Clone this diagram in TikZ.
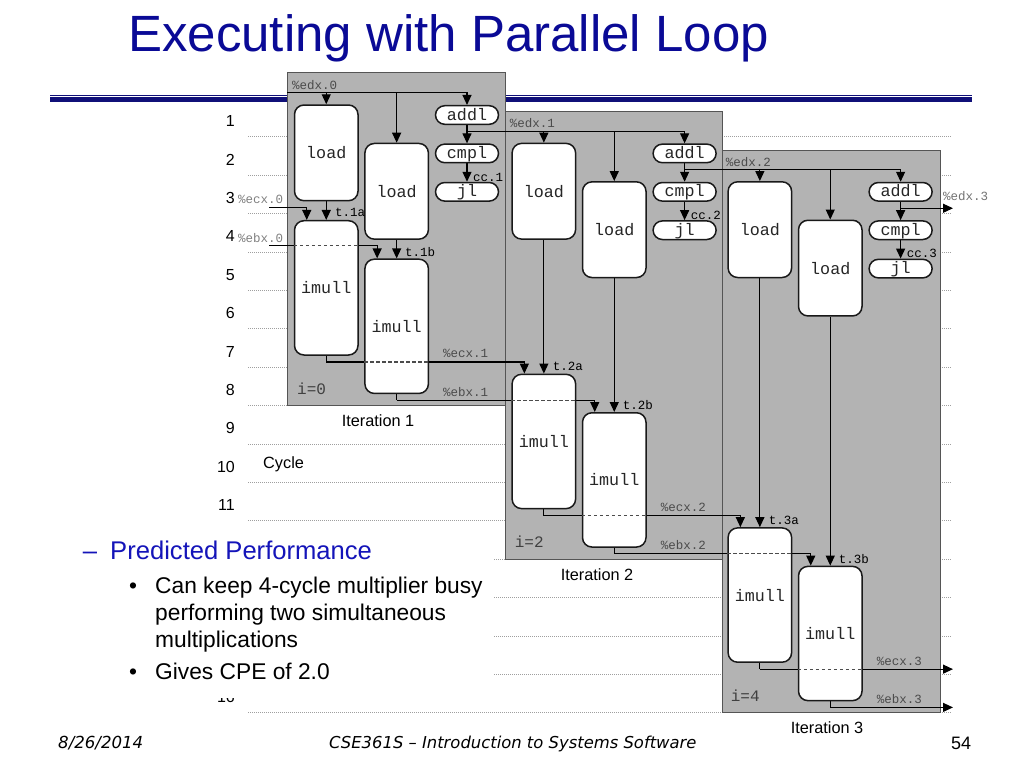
\documentclass[tikz,border=0pt]{standalone}
\usepackage{fontspec}
\setmainfont{Liberation Sans}
\newfontfamily\cour{Liberation Mono}
\newfontfamily\footfont{DejaVu Sans}
\usetikzlibrary{arrows.meta,calc}
\definecolor{titleblue}{RGB}{10,10,150}
\definecolor{ppblue}{RGB}{20,20,185}
\definecolor{navy}{RGB}{16,16,120}
\definecolor{boxgray}{RGB}{179,179,179}
\definecolor{edgegray}{RGB}{85,85,85}
\definecolor{lblgray}{RGB}{75,75,75}
\pgfdeclarelayer{bg}
\pgfdeclarelayer{wires}
\pgfsetlayers{bg,wires,main}
\begin{document}
\begin{tikzpicture}[x=1pt,y=-1pt,
  opbox/.style={draw=black!90,line width=1.5pt,fill=white,rounded corners=9.5pt,inner sep=0pt,minimum width=63.5pt,font=\cour\fontsize{16.7}{18}\selectfont,text=black!85},
  ldbox/.style={opbox,minimum height=95.7pt},
  imbox/.style={opbox,minimum height=134.3pt},
  pill/.style={opbox,rounded corners=9.3pt,minimum width=63pt,minimum height=18.6pt,text height=10.2pt,text depth=0pt},
  itbox/.style={fill=boxgray,draw=edgegray,line width=1pt},
  arr/.style={-{Triangle[length=10pt,width=9pt]},line width=1.2pt},
  wire/.style={line width=1.2pt},
  dsh/.style={line width=1.1pt,dash pattern=on 3.5pt off 2.5pt,black!70},
  reg/.style={font=\cour\fontsize{12.5}{13}\selectfont,text=lblgray,inner sep=0pt,anchor=west},
  tmp/.style={font=\cour\fontsize{12.5}{13}\selectfont,text=black,inner sep=0pt,anchor=west},
  ival/.style={font=\cour\fontsize{16}{17}\selectfont,text=black!75,inner sep=0pt,anchor=west},
  sans/.style={font=\fontsize{16.3}{18}\selectfont,inner sep=0pt},
  num/.style={font=\fontsize{16}{18}\selectfont,inner sep=0pt,anchor=base east},
  gridline/.style={gray!75,line width=0.8pt,dash pattern=on 1pt off 1pt},
]
\useasboundingbox (0,0) rectangle (1024,768);

\begin{pgfonlayer}{bg}
  % cycle grid
  \foreach \i in {0,...,15}{
    \draw[gridline] (248,136.7+38.4*\i) -- (952,136.7+38.4*\i);
  }
  \foreach \n in {1,...,11}{
    \node[num] (cyc\n) at (235,126.7+38.4*\n-38.4) {\n};
  }
  % text panel covering part of the grid
  \fill[white] (40,526) rectangle (494,698.4);
  % last cycle number, mostly hidden by the text panel
  \begin{scope}
    \clip (200,698.4) rectangle (245,712);
    \node[num] (cyc16) at (235,702.7) {16};
  \end{scope}
  % title rule
  \draw[navy,line width=1pt] (50,95.5) -- (972,95.5);
  \draw[navy,line width=4.4pt] (50,99.5) -- (972,99.5);
  % iteration boxes
  \path[itbox] (287.3,72.7) rectangle (505,405);
  \path[itbox] (505,111.7) rectangle (722.3,559);
  \path[itbox] (722.3,150) rectangle (940,712);
\end{pgfonlayer}

% title
\node[anchor=base west,inner sep=0pt,font=\fontsize{51}{60}\selectfont,text=titleblue] (title) at (128,51.7) {Executing with Parallel Loop};

% operation boxes
\foreach \k/\dx in {0/0,1/217.6,2/433.6}{
  \pgfmathsetmacro\dy{38.4*\k}
  \pgfmathsetmacro\dyi{153.6*\k}
  \node[ldbox] (ldA\k) at (326.25+\dx,152.85+\dy) {load};
  \node[ldbox] (ldB\k) at (396.65+\dx,191.3+\dy) {load};
  \node[pill] (add\k) at (467+\dx,115+\dy) {addl};
  \node[pill] (cmp\k) at (467+\dx,153.4+\dy) {cmpl};
  \node[pill] (jl\k) at (467+\dx,191.8+\dy) {jl};
  \node[imbox] (imA\k) at (326.25+\dx,287.85+\dyi) {imull};
  \node[imbox] (imB\k) at (396.65+\dx,326.3+\dyi) {imull};
}

% wires
\coordinate (xr) at (953,0);
\coordinate (edxh0) at (287.3,92.3);
\coordinate (ecxh0) at (269,207.3);
\coordinate (ebxh0) at (269,245.8);
\foreach \k in {1,2,3}{
  \pgfmathtruncatemacro\km{\k-1}
  \coordinate (edxh\k) at ($(add\km.south)+(0,6.4)$);
  \coordinate (ecxh\k) at ($(imA\km.south)+(0,6.2)$);
  \coordinate (ebxh\k) at ($(imB\km.south)+(0,6)$);
}
\begin{pgfonlayer}{wires}
  \foreach \k in {0,1,2}{
    \pgfmathtruncatemacro\kp{\k+1}
    \draw[arr] (edxh\k) -| (add\k.north);
    \draw[arr] (ldA\k.north |- edxh\k) -- (ldA\k.north);
    \draw[arr] (ldB\k.north |- edxh\k) -- (ldB\k.north);
    \draw[arr] (add\k.south) -- (cmp\k.north);
    \draw[arr] (cmp\k.south) -- (jl\k.north);
    \draw[arr] (ldA\k.south) -- (imA\k.north);
    \draw[arr] (ldB\k.south) -- (imB\k.north);
    \draw[arr] (ecxh\k) -| ([xshift=13pt]imA\k.north west);
    \draw[arr] (ebxh\k) -| ([xshift=13pt]imB\k.north west);
    \draw[wire] (imA\k.south) -- (ecxh\kp);
    \draw[wire] (imB\k.south) -- (ebxh\kp);
  }
  \draw[arr] (edxh3) -- (edxh3 -| xr);
  \draw[arr] (ecxh3) -- (ecxh3 -| xr);
  \draw[arr] (ebxh3) -- (ebxh3 -| xr);
\end{pgfonlayer}

% hidden parts of wires behind boxes
\foreach \k in {0,1,2}{
  \pgfmathtruncatemacro\kp{\k+1}
  \draw[dsh] (imA\k.west |- ebxh\k) -- (imA\k.east |- ebxh\k);
  \draw[dsh] (imB\k.west |- ecxh\kp) -- (imB\k.east |- ecxh\kp);
}

% labels
\foreach \k/\dx in {0/0,1/217.6,2/433.6}{
  \pgfmathsetmacro\dy{38.4*\k}
  \pgfmathsetmacro\dyi{153.6*\k}
  \pgfmathtruncatemacro\kp{\k+1}
  \pgfmathtruncatemacro\ii{2*\k}
  \node[reg] (ledx\k) at (292+\dx,85+\dy) {\%edx.\k};
  \node[tmp] (lcc\k) at (473+\dx,177+\dy) {cc.\kp};
  \node[tmp] (lta\k) at (335+\dx,212.7+\dyi) {t.\kp a};
  \node[tmp] (ltb\k) at (405+\dx,251.7+\dyi) {t.\kp b};
  \node[reg] (lecx\k) at (443+\dx,353.7+\dyi) {\%ecx.\kp};
  \node[reg] (lebx\k) at (443+\dx,391.7+\dyi) {\%ebx.\kp};
  \node[ival] (li\k) at (297+\dx,388.3+\dyi) {i=\ii};
}
\node[reg,text=gray] (inecx) at (238,199) {\%ecx.0};
\node[reg,text=gray] (inebx) at (238,237.7) {\%ebx.0};
\node[reg,text=gray!90!black] (outedx) at (943,196) {\%edx.3};

\node[sans] (it1) at (378,420.7) {Iteration 1};
\node[sans] (it2) at (597,574.3) {Iteration 2};
\node[sans] (it3) at (827,728) {Iteration 3};
\node[sans,anchor=base west] (cycle) at (263,468.3) {Cycle};

% bullet text
\node[anchor=base west,inner sep=0pt,font=\fontsize{25.6}{30}\selectfont,text=ppblue] (ppdash) at (82.7,559.3) {–};
\node[anchor=base west,inner sep=0pt,font=\fontsize{25.6}{30}\selectfont,text=ppblue] (pp) at (110,559.3) {Predicted Performance};
\node[anchor=base west,inner sep=0pt,font=\fontsize{22.75}{27}\selectfont] (bul1) at (128.9,593.3) {•};
\node[anchor=base west,inner sep=0pt,font=\fontsize{22.75}{27}\selectfont] (b1a) at (155,593.3) {Can keep 4-cycle multiplier busy};
\node[anchor=base west,inner sep=0pt,font=\fontsize{22.75}{27}\selectfont] (b1b) at (155,620.3) {performing two simultaneous};
\node[anchor=base west,inner sep=0pt,font=\fontsize{22.75}{27}\selectfont] (b1c) at (155,647.3) {multiplications};
\node[anchor=base west,inner sep=0pt,font=\fontsize{22.75}{27}\selectfont] (bul2) at (128.9,679.3) {•};
\node[anchor=base west,inner sep=0pt,font=\fontsize{22.75}{27}\selectfont] (b2) at (155,679.3) {Gives CPE of 2.0};

% footer
\node[anchor=base west,inner sep=0pt,font=\footfont\itshape\fontsize{16.6}{18}\selectfont] (date) at (58,748.3) {8/26/2014};
\node[anchor=base west,inner sep=0pt,font=\footfont\itshape\fontsize{16.4}{18}\selectfont] (course) at (329,748.3) {CSE361S – Introduction to Systems Software};
\node[anchor=base,inner sep=0pt,font=\fontsize{18}{20}\selectfont] (page) at (961,749.3) {54};
\end{tikzpicture}
\end{document}
